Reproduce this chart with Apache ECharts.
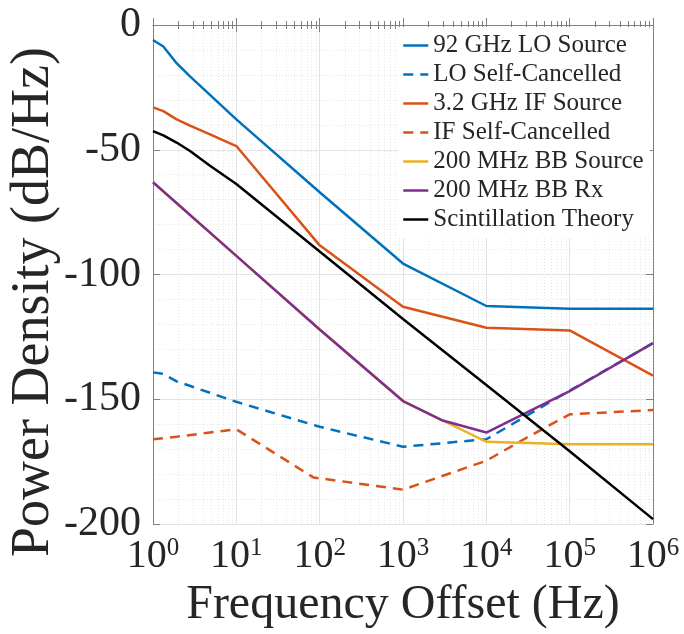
<!DOCTYPE html>
<html>
<head>
<meta charset="utf-8">
<script src="https://cdn.jsdelivr.net/npm/echarts@6/dist/echarts.min.js"></script>
<style>
  html, body { margin: 0; padding: 0; background: #fff; }
  #main { width: 684px; height: 634px; }
</style>
</head>
<body>
<div id="main"></div>
<script>
// [frequency offset Hz, dB/Hz]
var loSource = [[1,-6],[1.33,-8.6],[1.92,-15.3],[2.78,-20.6],[10,-37.8],[100,-67],[1e3,-95.6],[1e4,-112.6],[1e5,-113.7],[1e6,-113.7]];
var loCancel = [[1,-139.2],[1.33,-139.8],[1.92,-142.8],[10,-151],[100,-161],[1e3,-169],[1e4,-166],[3e4,-156.7],[1e5,-146.5],[1e6,-127.5]];
var ifSource = [[1,-33],[1.33,-34.5],[1.92,-37.8],[2.78,-40.3],[4.83,-43.8],[10,-48.5],[100,-88.3],[1e3,-112.9],[1e4,-121.3],[1e5,-122.4],[1e6,-140.5]];
var ifCancel = [[1,-166],[1.92,-165],[4.83,-163.3],[10,-162],[84,-181.3],[1e3,-186.2],[1e4,-174.6],[3e4,-165.5],[1e5,-156],[1e6,-154.3]];
var bbSource = [[1,-63],[10,-92.5],[100,-122],[1e3,-150.7],[1e4,-167],[1e5,-168],[1e6,-168]];
var bbRx = [[1,-63],[10,-92.5],[100,-122],[1e3,-150.7],[3e3,-158.5],[1e4,-163.3],[1e5,-146.7],[1e6,-127.5]];
var scint = [[1,-42.5],[1.33,-44.2],[1.92,-47.1],[2.78,-50.5],[4.83,-56.4],[10,-63.7],[100,-90.8],[1e3,-117.8],[1e4,-144.3],[1e5,-170.8],[1e6,-198]];

var names = ['92 GHz LO Source','LO Self-Cancelled','3.2 GHz IF Source','IF Self-Cancelled','200 MHz BB Source','200 MHz BB Rx','Scintillation Theory'];
var colors = ['#0072BD','#0072BD','#D95319','#D95319','#EDB120','#7E2F8E','#000000'];

var font = 'Liberation Serif, Times New Roman, serif';
var txt = '#262626';
var axisCol = '#808080';

function mkLine(i, data, dashed) {
  return {
    name: names[i], type: 'line', data: data, symbol: 'none', smooth: false,
    lineStyle: { color: colors[i], width: 2.5, type: dashed ? [10, 7] : 'solid' },
    itemStyle: { color: colors[i] },
    emphasis: { disabled: true }
  };
}

var myChart = echarts.init(document.getElementById('main'));

var option = {
  animation: false,
  textStyle: { fontFamily: font },
  grid: { left: 153, right: 31, top: 25, bottom: 107 },
  legend: {
    left: 398, top: 27, orient: 'vertical',
    backgroundColor: '#fff', padding: [4, 6, 4, 4],
    itemWidth: 25, itemHeight: 14, itemGap: 0,
    itemStyle: { opacity: 0 },
    lineStyle: { width: 2.5 },
    textStyle: { fontFamily: font, fontSize: 25, color: txt, lineHeight: 29 },
    data: names
  },
  graphic: [{
    type: 'text', x: 34, y: 302, rotation: Math.PI / 2,
    style: {
      text: 'Power Density (dB/Hz)', fill: txt,
      font: '54px ' + font, align: 'center', verticalAlign: 'middle'
    }
  }],
  xAxis: [{
    type: 'log', logBase: 10, min: 1, max: 1e6,
    name: 'Frequency Offset (Hz)', nameLocation: 'middle', nameGap: 50,
    nameTextStyle: { fontFamily: font, fontSize: 48, color: txt },
    axisLine: { lineStyle: { color: axisCol, width: 1 } },
    axisTick: { inside: true, length: 7, lineStyle: { color: axisCol } },
    minorTick: { show: true, splitNumber: 9, length: 4, lineStyle: { color: axisCol } },
    splitLine: { show: true, lineStyle: { color: '#e3e3e3', width: 1 } },
    minorSplitLine: { show: true, lineStyle: { color: '#e6e6e6', type: [1, 2] } },
    axisLabel: {
      margin: 12,
      formatter: function (v) { return '{b|10}{s|' + Math.round(Math.log10(v)) + '}'; },
      rich: {
        b: { fontFamily: font, fontSize: 40, color: txt, lineHeight: 40 },
        s: { fontFamily: font, fontSize: 25, color: txt, lineHeight: 40, verticalAlign: 'top', padding: [0, 0, 12, 0] }
      }
    }
  }, {
    type: 'log', logBase: 10, min: 1, max: 1e6, position: 'top',
    axisLine: { lineStyle: { color: axisCol, width: 1 } },
    axisTick: { inside: true, length: 7, lineStyle: { color: axisCol } },
    minorTick: { show: true, splitNumber: 9, length: 4, lineStyle: { color: axisCol } },
    axisLabel: { show: false }, splitLine: { show: false }
  }],
  yAxis: [{
    type: 'value', min: -200, max: 0, interval: 50,
    axisLine: { show: true, lineStyle: { color: axisCol, width: 1 } },
    axisTick: { show: true, inside: true, length: 7, lineStyle: { color: axisCol } },
    minorTick: { show: false, splitNumber: 5 },
    splitLine: { show: true, lineStyle: { color: '#e3e3e3', width: 1 } },
    minorSplitLine: { show: true, lineStyle: { color: '#e6e6e6', type: [1, 2] } },
    axisLabel: { fontFamily: font, fontSize: 42, color: txt, margin: 12 }
  }, {
    type: 'value', min: -200, max: 0, interval: 50, position: 'right',
    axisLine: { show: true, lineStyle: { color: axisCol, width: 1 } },
    axisTick: { show: true, inside: true, length: 7, lineStyle: { color: axisCol } },
    axisLabel: { show: false }, splitLine: { show: false }
  }],
  series: [
    mkLine(0, loSource, false),
    mkLine(1, loCancel, true),
    mkLine(2, ifSource, false),
    mkLine(3, ifCancel, true),
    mkLine(4, bbSource, false),
    mkLine(5, bbRx, false),
    mkLine(6, scint, false)
  ]
};

myChart.setOption(option);
</script>
</body>
</html>
